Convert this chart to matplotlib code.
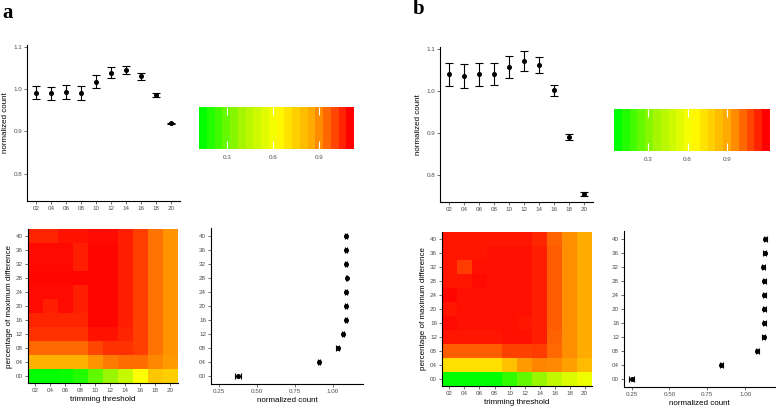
import numpy as np
import matplotlib
matplotlib.use("Agg")
import matplotlib.pyplot as plt
from matplotlib.colors import LinearSegmentedColormap, Normalize
from matplotlib.cm import ScalarMappable

plt.rcParams["font.family"] = ["Liberation Sans", "DejaVu Sans"]

# ---- data ----
thresholds = ["02", "04", "06", "08", "10", "12", "14", "16", "18", "20"]
percents = ["00", "04", "08", "12", "16", "20", "24", "28", "32", "36", "40"]

# top panels: normalized count by trimming threshold (mean, error)
top_a = [0.992, 0.990, 0.993, 0.991, 1.018, 1.039, 1.046, 1.031, 0.986, 0.919]
top_a_err = [0.016, 0.016, 0.016, 0.016, 0.015, 0.013, 0.010, 0.008, 0.004, 0.002]
top_b = [1.040, 1.036, 1.040, 1.041, 1.057, 1.072, 1.062, 1.002, 0.890, 0.754]
top_b_err = [0.027, 0.028, 0.027, 0.027, 0.026, 0.024, 0.019, 0.013, 0.008, 0.004]

# right panels: normalized count by percentage of maximum difference
right_a = [0.378, 0.910, 1.030, 1.068, 1.083, 1.085, 1.087, 1.089, 1.087, 1.087, 1.088]
right_a_err = [0.020, 0.008, 0.007, 0.006, 0.006, 0.006, 0.006, 0.006, 0.006, 0.006, 0.006]
right_b = [0.250, 0.843, 1.081, 1.123, 1.125, 1.125, 1.125, 1.125, 1.120, 1.130, 1.132]
right_b_err = [0.015, 0.010, 0.010, 0.010, 0.010, 0.010, 0.010, 0.010, 0.010, 0.010, 0.010]

# heatmaps: rows = percentage (00 -> 40), columns = threshold (02 -> 20)
heat_a = [
    [0.12, 0.12, 0.13, 0.17, 0.27, 0.36, 0.47, 0.62, 0.78, 0.76],
    [0.84, 0.84, 0.84, 0.84, 0.90, 0.94, 0.96, 0.96, 0.92, 0.89],
    [0.97, 0.97, 0.97, 0.97, 1.02, 1.05, 1.05, 1.03, 0.95, 0.90],
    [1.05, 1.05, 1.05, 1.05, 1.10, 1.10, 1.07, 1.03, 0.95, 0.90],
    [1.07, 1.07, 1.07, 1.07, 1.12, 1.12, 1.08, 1.03, 0.95, 0.90],
    [1.11, 1.08, 1.11, 1.08, 1.12, 1.12, 1.08, 1.03, 0.95, 0.90],
    [1.11, 1.11, 1.11, 1.08, 1.12, 1.12, 1.08, 1.03, 0.95, 0.90],
    [1.12, 1.12, 1.12, 1.12, 1.12, 1.12, 1.08, 1.03, 0.95, 0.90],
    [1.11, 1.11, 1.11, 1.08, 1.12, 1.12, 1.08, 1.03, 0.95, 0.90],
    [1.11, 1.11, 1.11, 1.08, 1.12, 1.12, 1.08, 1.03, 0.95, 0.90],
    [1.07, 1.07, 1.10, 1.10, 1.11, 1.11, 1.08, 1.03, 0.95, 0.90],
]
heat_b = [
    [0.04, 0.04, 0.04, 0.04, 0.13, 0.22, 0.32, 0.44, 0.53, 0.58],
    [0.74, 0.74, 0.74, 0.74, 0.84, 0.95, 0.99, 0.98, 0.94, 0.86],
    [1.06, 1.06, 1.06, 1.06, 1.11, 1.11, 1.12, 1.04, 0.97, 0.91],
    [1.19, 1.19, 1.19, 1.19, 1.20, 1.20, 1.17, 1.05, 0.97, 0.91],
    [1.21, 1.20, 1.20, 1.20, 1.20, 1.19, 1.17, 1.06, 0.97, 0.91],
    [1.19, 1.20, 1.20, 1.20, 1.20, 1.20, 1.17, 1.06, 0.97, 0.91],
    [1.22, 1.20, 1.20, 1.20, 1.20, 1.20, 1.17, 1.06, 0.97, 0.91],
    [1.19, 1.19, 1.21, 1.20, 1.20, 1.20, 1.17, 1.06, 0.97, 0.91],
    [1.19, 1.12, 1.20, 1.20, 1.20, 1.20, 1.17, 1.06, 0.97, 0.91],
    [1.19, 1.19, 1.19, 1.20, 1.20, 1.20, 1.17, 1.06, 0.97, 0.91],
    [1.19, 1.19, 1.19, 1.19, 1.19, 1.19, 1.16, 1.05, 0.97, 0.91],
]
limits_a = (0.117, 1.128)
limits_b = (0.038, 1.23)

# ---- style ----
W, H = 778, 407
TICK_COL = "#4D4D4D"
cmap = LinearSegmentedColormap.from_list(
    "gyr", [(0, "#00FF00"), (0.25, "#A0F500"), (0.5, "#FFFF00"), (0.75, "#FFA500"), (1, "#FF0000")])

fig = plt.figure(figsize=(W / 100, H / 100), dpi=100)


def box(l, t, r, b):
    return [l / W, 1 - b / H, (r - l) / W, (b - t) / H]


def classic(ax):
    for s in ["top", "right"]:
        ax.spines[s].set_visible(False)
    for s in ["left", "bottom"]:
        ax.spines[s].set_linewidth(0.8)
    ax.tick_params(length=2, width=0.5, color="#333333", labelsize=4.5,
                   labelcolor=TICK_COL, pad=1.5)


def top_panel(rect, vals, errs):
    ax = fig.add_axes(box(*rect))
    x = np.arange(1, len(vals) + 1)
    ax.errorbar(x, vals, yerr=errs, fmt="o", color="black", ms=2.6,
                elinewidth=0.8, capsize=2.6, capthick=0.8)
    ax.set_xlim(0.4, 10.6)
    ax.set_ylim(0.735, 1.105)
    ax.set_xticks(x)
    ax.set_xticklabels(thresholds)
    ax.set_yticks([0.8, 0.9, 1.0, 1.1])
    ax.set_ylabel("normalized count", fontsize=5.8, labelpad=3)
    classic(ax)
    return ax


def heat_panel(rect, data, lim):
    ax = fig.add_axes(box(*rect))
    xe = np.arange(0.5, len(thresholds) + 1)
    ye = np.arange(0.5, len(percents) + 1)
    ax.pcolormesh(xe, ye, np.array(data), cmap=cmap, vmin=lim[0], vmax=lim[1])
    ax.set_xlim(0.5, 10.5)
    ax.set_ylim(0.5, 11.5)
    ax.set_xticks(np.arange(1, 11))
    ax.set_xticklabels(thresholds)
    ax.set_yticks(np.arange(1, 12))
    ax.set_yticklabels(percents)
    ax.set_xlabel("trimming threshold", fontsize=5.8, labelpad=2)
    ax.set_ylabel("percentage of maximum difference", fontsize=5.8, labelpad=2)
    classic(ax)
    return ax


def right_panel(rect, vals, errs):
    ax = fig.add_axes(box(*rect))
    y = np.arange(1, len(vals) + 1)
    ax.errorbar(vals, y, xerr=errs, fmt="o", color="black", ms=2.6,
                elinewidth=0.8, capsize=2.4, capthick=0.8)
    ax.set_xlim(0.2, 1.197)
    ax.set_ylim(0.43, 11.57)
    ax.set_xticks([0.25, 0.5, 0.75, 1.0])
    ax.set_xticklabels(["0.25", "0.50", "0.75", "1.00"])
    ax.set_yticks(y)
    ax.set_yticklabels(percents)
    ax.set_xlabel("normalized count", fontsize=5.8, labelpad=2)
    classic(ax)
    return ax


def colorbar(rect, lim):
    cax = fig.add_axes(box(*rect))
    sm = ScalarMappable(norm=Normalize(*lim), cmap=cmap.resampled(20))
    cb = fig.colorbar(sm, cax=cax, orientation="horizontal")
    cb.outline.set_visible(False)
    cb.set_ticks([0.3, 0.6, 0.9])
    cax.set_axisbelow(False)
    cax.xaxis.set_ticks_position("both")
    cax.tick_params(direction="in", length=6, width=0.8, color="white",
                    labelsize=4.5, labelcolor=TICK_COL, pad=4)
    cax.tick_params(labeltop=False)
    for t in cax.xaxis.get_major_ticks():
        t.tick1line.set_zorder(5)
        t.tick2line.set_zorder(5)


# panel a
top_panel((27, 45, 180, 201), top_a, top_a_err)
colorbar((199, 107, 354, 149), limits_a)
heat_panel((27.5, 229, 177.5, 383), heat_a, limits_a)
right_panel((211, 228, 363, 384), right_a, right_a_err)

# panel b
top_panel((440, 47, 593, 202), top_b, top_b_err)
colorbar((614, 109, 770, 151), limits_b)
heat_panel((442, 232, 592, 386), heat_b, limits_b)
right_panel((624, 231, 775, 387), right_b, right_b_err)

fig.text(2 / W, 1 - 18 / H, "a", fontsize=15, fontweight="bold", family="Liberation Serif")
fig.text(413 / W, 1 - 14 / H, "b", fontsize=15, fontweight="bold", family="Liberation Serif")

fig.savefig("out.png", dpi=100)
